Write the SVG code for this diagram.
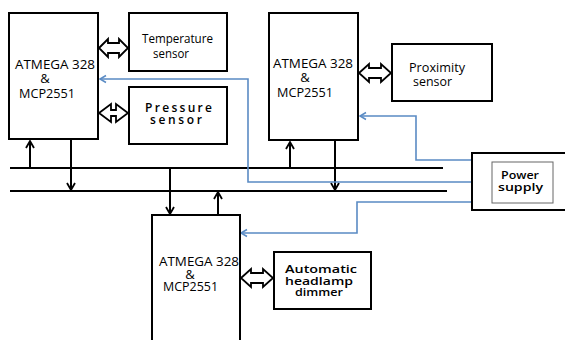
<svg xmlns="http://www.w3.org/2000/svg" width="565" height="340" viewBox="0 0 565 340">
<defs>
<marker id="ah" markerWidth="10" markerHeight="10" refX="8" refY="5" orient="auto" markerUnits="userSpaceOnUse">
<path d="M1,1 L8,5 L1,9" fill="none" stroke="#000" stroke-width="1.8"/>
</marker>
<marker id="bh" markerWidth="10" markerHeight="10" refX="8" refY="5" orient="auto" markerUnits="userSpaceOnUse">
<path d="M2,1.5 L8,5 L2,8.5" fill="none" stroke="#5a8bc4" stroke-width="1.5"/>
</marker>
<style>
.box{fill:#fff;stroke:#000;stroke-width:2}
.bus{stroke:#000;stroke-width:2;fill:none}
.ar{stroke:#000;stroke-width:2;fill:none}
.pw{stroke:#5a8bc4;stroke-width:1.6;fill:none}
.dbl{fill:#fff;stroke:#000;stroke-width:1.8;stroke-linejoin:miter}
text{font-family:"Open Sans","Liberation Sans",sans-serif;fill:#000}
.mcu{font-size:13px}
.sen{font-size:13.5px}
.sb{font-size:11px;font-weight:600}
.pb{font-size:12px;font-weight:600}
</style>
</defs>

<g id="connectors">
<line class="bus" x1="10" y1="168" x2="443" y2="168"/>
<line class="bus" x1="10" y1="191" x2="447" y2="191"/>
<line class="ar" x1="30" y1="168" x2="30" y2="141" marker-end="url(#ah)"/>
<line class="ar" x1="71" y1="139" x2="71" y2="190" marker-end="url(#ah)"/>
<line class="ar" x1="290" y1="168" x2="290" y2="142" marker-end="url(#ah)"/>
<line class="ar" x1="335" y1="140" x2="335" y2="190" marker-end="url(#ah)"/>
<line class="ar" x1="170" y1="168" x2="170" y2="214" marker-end="url(#ah)"/>
<line class="ar" x1="218" y1="215" x2="218" y2="192" marker-end="url(#ah)"/>
<path class="pw" d="M472,182 L248,182 L248,79 L100,79" marker-end="url(#bh)"/>
<path class="pw" d="M472,160 L416,160 L416,116 L360,116" marker-end="url(#bh)"/>
<path class="pw" d="M472,202 L357,202 L357,233 L241,233" marker-end="url(#bh)"/>
</g>

<g id="mcu1">
<rect class="box" x="9" y="13" width="89" height="126"/>
<text class="mcu" x="15" y="69" textLength="80" lengthAdjust="spacingAndGlyphs">ATMEGA 328</text>
<text class="mcu" x="45" y="83" text-anchor="middle">&amp;</text>
<text class="mcu" x="19" y="98" textLength="56" lengthAdjust="spacingAndGlyphs">MCP2551</text>
</g>

<g id="temp">
<rect class="box" x="129" y="13" width="98" height="58"/>
<text class="sen" x="142" y="43" textLength="71" lengthAdjust="spacingAndGlyphs">Temperature</text>
<text class="sen" x="153" y="58" textLength="36" lengthAdjust="spacingAndGlyphs">sensor</text>
</g>
<g id="temp-link">
<path class="dbl" d="M99,48 L108,39 L108,43 L119,43 L119,39 L128,48 L119,57 L119,53 L108,53 L108,57 Z"/>
</g>

<g id="press">
<rect class="box" x="129" y="87" width="98" height="57"/>
<text class="pb" x="145" y="112" textLength="67" lengthAdjust="spacing">Pressure</text>
<text class="pb" x="150" y="124" textLength="52" lengthAdjust="spacing">sensor</text>
</g>
<g id="press-link">
<path class="dbl" d="M99,113 L111,104 L111,110 L116,110 L116,104 L128,113 L116,122 L116,116 L111,116 L111,122 Z"/>
</g>

<g id="mcu2">
<rect class="box" x="269" y="13" width="89" height="127"/>
<text class="mcu" x="273" y="68" textLength="80" lengthAdjust="spacingAndGlyphs">ATMEGA 328</text>
<text class="mcu" x="305" y="82" text-anchor="middle">&amp;</text>
<text class="mcu" x="277" y="97" textLength="56" lengthAdjust="spacingAndGlyphs">MCP2551</text>
</g>

<g id="prox">
<rect class="box" x="392" y="44" width="100" height="57"/>
<text class="sen" x="409" y="72" textLength="56" lengthAdjust="spacingAndGlyphs">Proximity</text>
<text class="sen" x="413" y="86" textLength="39" lengthAdjust="spacingAndGlyphs">sensor</text>
</g>
<g id="prox-link">
<path class="dbl" d="M359,73 L369,64 L369,68 L381,68 L381,64 L391,73 L381,82 L381,78 L369,78 L369,82 Z"/>
</g>

<g id="mcu3">
<rect class="box" x="152" y="215" width="88" height="135"/>
<text class="mcu" x="159" y="266" textLength="80" lengthAdjust="spacingAndGlyphs">ATMEGA 328</text>
<text class="mcu" x="190" y="279" text-anchor="middle">&amp;</text>
<text class="mcu" x="163" y="291" textLength="55" lengthAdjust="spacingAndGlyphs">MCP2551</text>
</g>

<g id="dimmer">
<rect class="box" x="274" y="252" width="97" height="57"/>
<text class="sb" x="285" y="273" textLength="72" lengthAdjust="spacingAndGlyphs">Automatic</text>
<text class="sb" x="285" y="285" textLength="68" lengthAdjust="spacingAndGlyphs">headlamp</text>
<text class="sb" x="295" y="296" textLength="48" lengthAdjust="spacingAndGlyphs">dimmer</text>
</g>
<g id="dimmer-link">
<path class="dbl" d="M241,278 L251,269 L251,273 L263,273 L263,269 L273,278 L263,287 L263,283 L251,283 L251,287 Z"/>
</g>

<g id="power">
<rect class="box" x="472" y="153" width="100" height="57"/>
<rect x="492" y="162" width="61" height="41" fill="none" stroke="#666" stroke-width="1"/>
<text class="sb" x="501" y="179" font-size="12" textLength="38" lengthAdjust="spacingAndGlyphs">Power</text>
<text class="sb" x="498" y="191" font-size="12" textLength="45" lengthAdjust="spacingAndGlyphs">supply</text>
</g>
</svg>
